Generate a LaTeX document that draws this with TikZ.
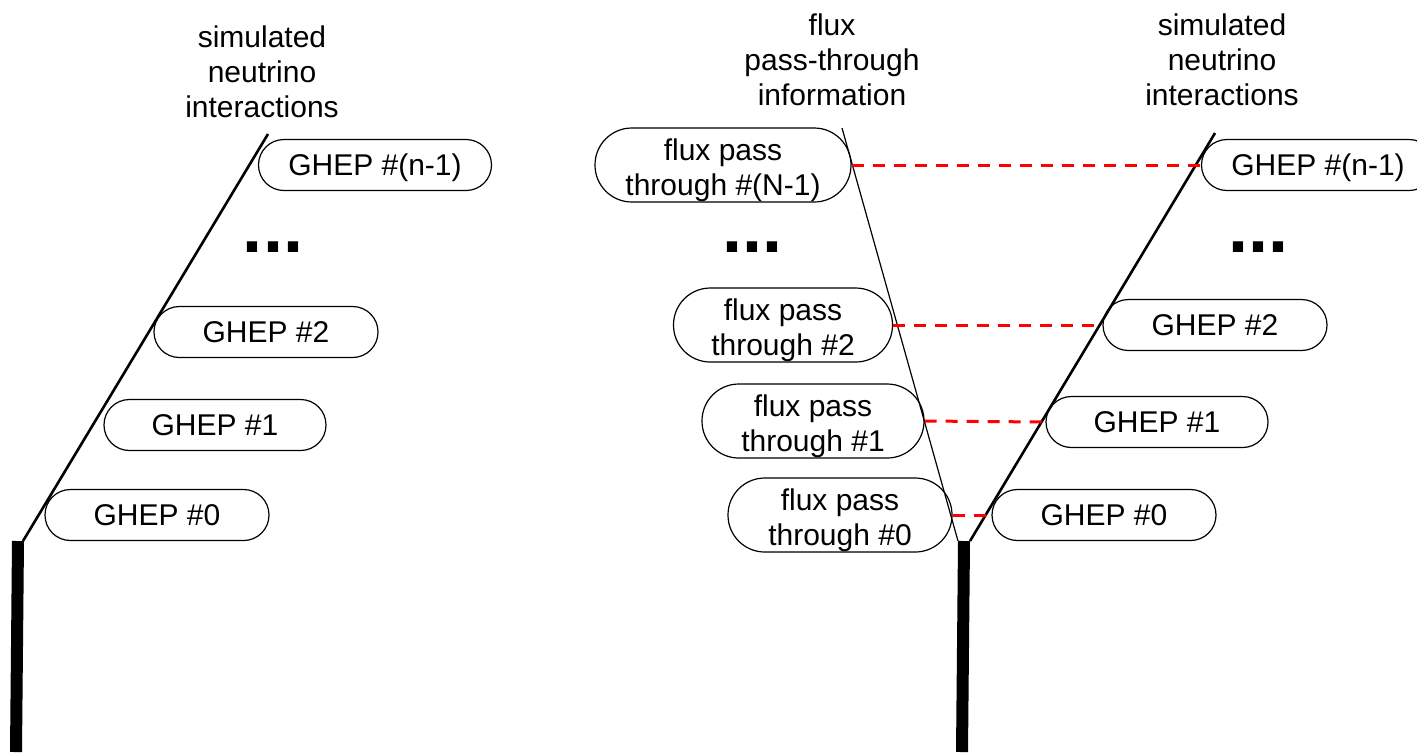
\documentclass[tikz,border=0pt]{standalone}
\usepackage{fontspec}
\setmainfont{Liberation Sans}
\usetikzlibrary{positioning}
\tikzset{
  lbl/.style={align=center,font=\fontsize{15}{17.5}\selectfont,inner sep=0pt},
  ghep/.style={draw,line width=0.6pt,rounded corners=12.7pt,minimum height=25.5pt,
               minimum width=112pt,font=\fontsize{15}{17.5}\selectfont,inner sep=0pt,
               text height=10.8pt,text depth=0pt},
  flux/.style={ghep,align=center,rounded corners=18.4pt,minimum height=37pt,minimum width=111pt,
               text height=30pt,text depth=0pt},
  dots/.style={font=\bfseries\fontsize{36}{36}\selectfont,anchor=base,inner sep=0pt},
  stem/.style={line width=6pt},
  tree/.style={line width=1.3pt},
  pass/.style={line width=0.6pt},
  link/.style={red,line width=1.5pt,dash pattern=on 6pt off 4.5pt},
}
\begin{document}
\begin{tikzpicture}[x=0.5pt,y=-0.5pt]
  \useasboundingbox (0,0) rectangle (1417,752);
  % left: generated events only
  \node[lbl] (simL) at (262,72) {simulated\\neutrino\\interactions};
  \coordinate (stemL) at (18,541);
  \coordinate (footL) at (16,752);
  \coordinate (kneeL) at (23,541);
  \coordinate (tipL) at (268,134);
  \draw[stem] (stemL) -- (footL);
  \draw[tree] (kneeL) -- (tipL);
  \foreach \n/\t/\w/\x/\y in {0/0/112/157/515, 1/1/111/215/425, 2/2/112/266/332, n/(n-1)/116.5/375/165}{
    \node[ghep,minimum width=\w pt] (L\n) at (\x,\y) {GHEP \#\t};}
  \node[dots] (dotsL) at (273,252) {...};
  % right: flux pass-through records matched to events
  \node[lbl] (fluxT) at (832,60) {flux\\pass-through\\information};
  \node[lbl] (simR) at (1222,60) {simulated\\neutrino\\interactions};
  \coordinate (stemR) at (964,541);
  \coordinate (footR) at (962,752);
  \coordinate (kneeF) at (958,541);
  \coordinate (tipF) at (842,128);
  \coordinate (kneeR) at (970,541);
  \coordinate (tipR) at (1215,133);
  \draw[stem] (stemR) -- (footR);
  \draw[pass] (kneeF) -- (tipF);
  \draw[tree] (kneeR) -- (tipR);
  \foreach \n/\t/\w/\x/\y in {0/0/112/840/515, 1/1/111/813/421, 2/2/109.5/783/325, n/(N-1)/128/723/165}{
    \node[flux,minimum width=\w pt] (F\n) at (\x,\y) {flux pass\\through \#\t};}
  \foreach \n/\t/\w/\x/\y in {0/0/112/1104/515, 1/1/111/1157/422, 2/2/112/1215/325, n/(n-1)/116.5/1318/165}{
    \node[ghep,minimum width=\w pt] (R\n) at (\x,\y) {GHEP \#\t};}
  \node[dots] (dotsF) at (752,252) {...};
  \node[dots] (dotsR) at (1258,252) {...};
  \foreach \n in {0,1,2,n}
    \draw[link] (F\n.east) -- (R\n.west);
\end{tikzpicture}
\end{document}
